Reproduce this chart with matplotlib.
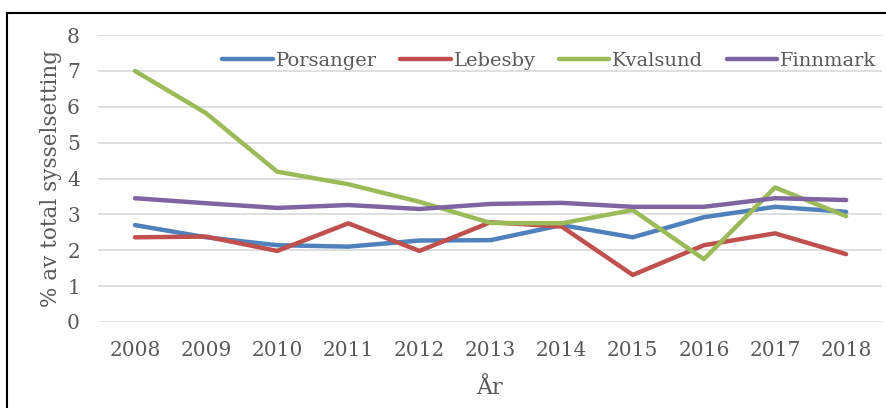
import matplotlib.pyplot as plt
from matplotlib.lines import Line2D

# Data
years = [2008, 2009, 2010, 2011, 2012, 2013, 2014, 2015, 2016, 2017, 2018]
porsanger = [2.70, 2.36, 2.14, 2.10, 2.27, 2.28, 2.70, 2.36, 2.92, 3.21, 3.07]
lebesby = [2.36, 2.38, 1.98, 2.75, 1.98, 2.78, 2.66, 1.31, 2.14, 2.47, 1.89]
kvalsund = [7.00, 5.82, 4.19, 3.84, 3.35, 2.76, 2.75, 3.12, 1.75, 3.75, 2.95]
finnmark = [3.45, 3.31, 3.18, 3.26, 3.15, 3.29, 3.32, 3.21, 3.21, 3.45, 3.40]

series = [
    ("Porsanger", porsanger, "#4F81BD"),
    ("Lebesby", lebesby, "#C0504D"),
    ("Kvalsund", kvalsund, "#9BBB59"),
    ("Finnmark", finnmark, "#8064A2"),
]

plt.rcParams['font.family'] = ['DejaVu Serif']
txt = "#595959"

fig = plt.figure(figsize=(8.87, 4.08), dpi=100)
ax = fig.add_axes([0.1105, 0.211, 0.8835, 0.703])

for name, vals, col in series:
    ax.plot(years, vals, color=col, lw=3.2, label=name, solid_capstyle='round')

ax.set_ylim(0, 8)
ax.set_xlim(2007.48, 2018.5)
ax.set_yticks(range(0, 9))
ax.set_xticks(years)
ax.grid(axis='y', color='#D9D9D9', lw=1.2)
ax.set_axisbelow(True)
for s in ax.spines.values():
    s.set_visible(False)
ax.tick_params(length=0, labelsize=14.5, colors=txt)
ax.tick_params(axis='x', pad=14)
ax.tick_params(axis='y', pad=13)

ax.set_ylabel("% av total sysselsetting", fontsize=15.5, color=txt, labelpad=4)
ax.set_xlabel("År", fontsize=16, color=txt, labelpad=12)

ax.legend(loc='center', bbox_to_anchor=(0.576, 0.909), ncol=4, frameon=False,
          fontsize=14, labelcolor=txt, handlelength=2.6, columnspacing=1.2,
          handletextpad=0.15)

# black frame on left and top like the original screenshot
fig.add_artist(Line2D([7 / 887, 7 / 887], [0, 1 - 13 / 408], color='black', lw=1.5))
fig.add_artist(Line2D([7 / 887, 1], [1 - 13 / 408, 1 - 13 / 408], color='black', lw=1.5))

fig.savefig("out.png", dpi=100)
